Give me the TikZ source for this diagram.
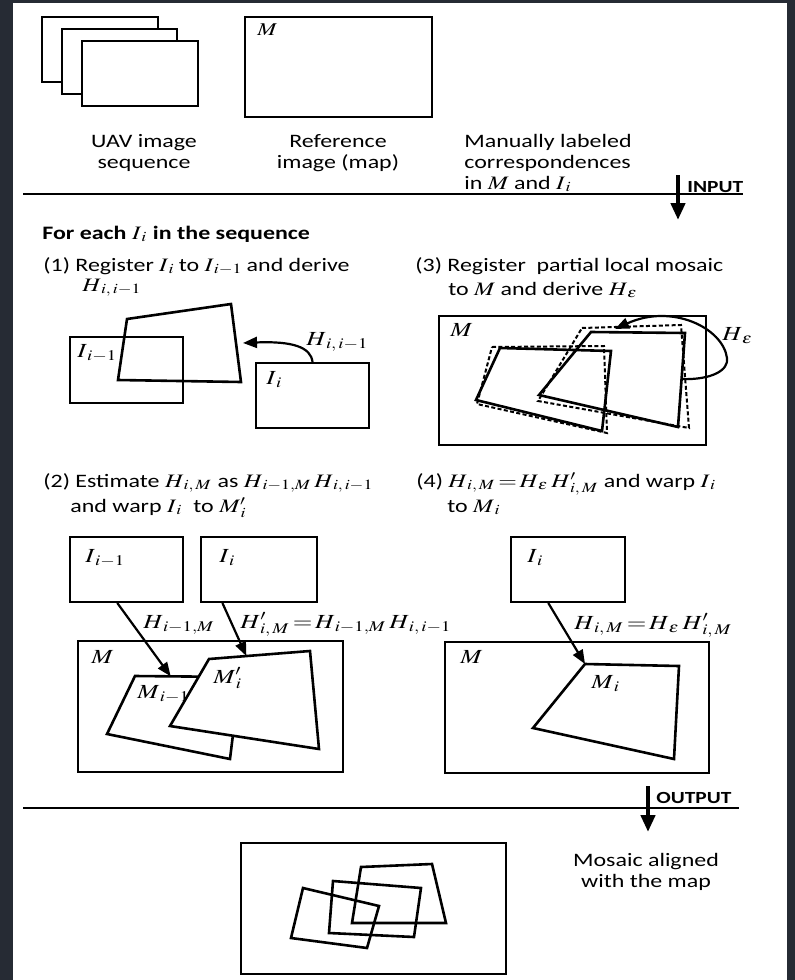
\documentclass[tikz,border=0pt]{standalone}
\usepackage{mathptmx}
\usepackage[no-math]{fontspec}
\setmainfont{Carlito}
\usepackage{graphicx}
\usetikzlibrary{arrows.meta,fit,calc}
\definecolor{bgdark}{RGB}{38,43,52}
\newcommand\sx[1]{\scalebox{1.26}[1]{#1}}
\newcommand\subx[2]{#1_{\,#2}}
\tikzset{
  box/.style={draw, line width=1pt, inner sep=0pt, fill=white},
  quad/.style={draw, line width=1.3pt, line join=miter},
  dquad/.style={draw, line width=1pt, dash pattern=on 2pt off 1.2pt},
  txt/.style={inner sep=0pt, anchor=base west, font=\fontsize{9.5}{11}\selectfont},
  ctxt/.style={txt, anchor=base},
  lbl/.style={inner sep=0pt, anchor=base west, font=\fontsize{10}{12}\selectfont},
  tag/.style={inner sep=0pt, anchor=base west, font=\fontsize{8.5}{10}\selectfont\bfseries},
  conn/.style={line width=1.1pt, -{Triangle[length=7pt,width=5.5pt]}},
  bigarrow/.style={line width=2.2pt, -{Triangle[length=8.5pt,width=7pt]}},
  rule/.style={line width=0.85pt},
}
\begin{document}
\begin{tikzpicture}[x=0.5pt,y=-0.5pt]
\useasboundingbox (0,0) rectangle (795,980);
\fill[bgdark] (0,0) rectangle (795,980);
\fill[white] (13,3) rectangle (787,980);

% ---------- inputs ----------
\node[box, fit={(42,17)(158,82)}] (uav1) {};
\node[box, fit={(62,29)(177,94)}] (uav2) {};
\node[box, fit={(82,41)(198,106)}] (uav3) {};
\node[box, fit={(245,17)(432,117)}] (refmap) {};
\node[lbl, font=\fontsize{9}{11}\selectfont] (refM) at (257,35) {\sx{$M$}};

\node[ctxt] (t1a) at (144,147) {\sx{UAV image}};
\node[ctxt] (t1b) at (144,168) {\sx{sequence}};
\node[ctxt] (t2a) at (338,147) {\sx{Reference}};
\node[ctxt] (t2b) at (338,168) {\sx{image (map)}};
\node[txt] (t3a) at (464,147) {\sx{Manually labeled}};
\node[txt] (t3b) at (464,168) {\sx{correspondences}};
\node[txt] (t3c) at (464,189) {\sx{in $M$ and $\subx{I}{i}$}};

\draw[rule] (23,194) coordinate (r1a) -- (743,194) coordinate (r1b);
\coordinate (inA) at (678,175);
\coordinate (inB) at (678,220);
\draw[bigarrow] (inA) -- (inB);
\node[tag] (intag) at (687,192) {\sx{INPUT}};

% ---------- headings ----------
\node[txt, font=\fontsize{9.5}{11}\selectfont\bfseries] (foreach) at (42,239) {\sx{For each $\subx{I}{i}$\ in the sequence}};
\node[txt] (s1a) at (43,271) {\sx{(1) Register $\subx{I}{i}$\,to $\subx{I}{i-1}$\,and derive}};
\node[txt] (s1b) at (82,291) {\sx{$\subx{H}{i,\,i-1}$}};
\node[txt] (s3a) at (415,271) {\sx{(3) Register\ \ partial local mosaic}};
\node[txt] (s3b) at (448,295) {\sx{to $M$ and derive $\subx{H}{\varepsilon}$}};

% ---------- step (1) ----------
\node[box, fill=none, fit={(70,337)(183,403)}] (p1prev) {};
\coordinate (q1a) at (127,319);
\coordinate (q1b) at (231,304);
\coordinate (q1c) at (241,382);
\coordinate (q1d) at (118,380);
\draw[quad] (q1a) -- (q1b) -- (q1c) -- (q1d) -- cycle;
\node[box, fit={(256,363)(369,428)}] (p1cur) {};
\node[lbl] (l1prev) at (77,357) {\sx{$\subx{I}{i-1}$}};
\node[lbl] (l1cur) at (266,384) {\sx{$\subx{I}{i}$}};
\coordinate (h1tip) at (243,343);
\draw[conn] (p1cur.north) .. controls (311,347) and (292,341) .. (h1tip);
\node[lbl] (l1H) at (306,345) {\sx{$\subx{H}{i,\,i-1}$}};

% ---------- step (3) ----------
\node[box, fit={(439,316)(706,445)}] (p3map) {};
\node[lbl] (l3M) at (450,336) {\sx{$M$}};
\coordinate (a1) at (500,348);
\coordinate (a2) at (611,351);
\coordinate (a3) at (602,431);
\coordinate (a4) at (476,400);
\coordinate (b1) at (591,332);
\coordinate (b2) at (685,333);
\coordinate (b3) at (678,427);
\coordinate (b4) at (539,395);
\draw[dquad] (492,347) -- (604,346) -- (607,433) -- (477,404) -- cycle;
\draw[dquad] (582,328) -- (681,325) -- (689,428) -- (538,401) -- cycle;
\draw[quad] (a1) -- (a2) -- (a3) -- (a4) -- cycle;
\draw[quad] (b1) -- (b2) -- (b3) -- (b4) -- cycle;
\coordinate (hetip) at (615,329);
\draw[conn] ($(b2)!0.49!(b3)$) .. controls (712,380) and (729,370) .. (727,358)
   .. controls (723,328) and (672,303) .. (hetip);
\node[lbl] (l3H) at (722,340) {\sx{$\subx{H}{\varepsilon}$}};

% ---------- step (2) headings ----------
\node[txt] (s2a) at (43,487) {\sx{(2) Estimate $\subx{H}{i,\,M}$ as $\subx{H}{i-1,M}\,\subx{H}{i,\,i-1}$}};
\node[txt] (s2b) at (70,512) {\sx{and warp $\subx{I}{i}$\ \ to $\subx{M}{i}'$}};
\node[txt] (s4a) at (416,487) {\sx{(4) $\subx{H}{i,\,M}\!=\!\subx{H}{\varepsilon}\,\subx{H}{i,\,M}'$\ and warp $\subx{I}{i}$}};
\node[txt] (s4b) at (447,512) {\sx{to $\subx{M}{i}$}};

% ---------- step (2) ----------
\node[box, fit={(70,537)(183,602)}] (p2prev) {};
\node[box, fit={(201,537)(317,602)}] (p2cur) {};
\node[lbl] (l2prev) at (85,562) {\sx{$\subx{I}{i-1}$}};
\node[lbl] (l2cur) at (219,562) {\sx{$\subx{I}{i}$}};
\node[box, fit={(78,641)(343,772)}] (p2map) {};
\node[lbl] (l2M) at (91,663) {\sx{$M$}};
\coordinate (m1) at (135,676);
\coordinate (m2) at (240,677);
\coordinate (m3) at (230,759);
\coordinate (m4) at (107,734);
\filldraw[quad, fill=white] (m1) -- (m2) -- (m3) -- (m4) -- cycle;
\node[lbl] (l2Mp) at (137,698) {\sx{$\subx{M}{i-1}$}};
\coordinate (n1) at (209,659);
\coordinate (n2) at (310,651);
\coordinate (n3) at (319,749);
\coordinate (n4) at (170,726);
\filldraw[quad, fill=white] (n1) -- (n2) -- (n3) -- (n4) -- cycle;
\node[lbl] (l2Mc) at (213,683) {\sx{$\subx{M}{i}'$}};
\draw[conn] ($(p2prev.south west)!0.42!(p2prev.south east)$) -- ($(m1)!0.34!(m2)$);
\draw[conn] ($(p2cur.south west)!0.19!(p2cur.south east)$) -- ($(n1)!0.37!(n2)$);
\node[lbl] (l2H1) at (143,628) {\sx{$\subx{H}{i-1,M}$}};
\node[lbl] (l2H2) at (240,628) {\sx{$\subx{H}{i,\,M}'\!=\!\subx{H}{i-1,M}\,\subx{H}{i,\,i-1}$}};

% ---------- step (4) ----------
\node[box, fit={(511,537)(625,602)}] (p4cur) {};
\node[lbl] (l4cur) at (527,562) {\sx{$\subx{I}{i}$}};
\node[box, fit={(445,642)(709,773)}] (p4map) {};
\node[lbl] (l4M) at (460,663) {\sx{$M$}};
\coordinate (k1) at (585,664);
\coordinate (k2) at (679,666);
\coordinate (k3) at (674,759);
\coordinate (k4) at (533,728);
\draw[quad] (k1) -- (k2) -- (k3) -- (k4) -- cycle;
\node[lbl] (l4Mi) at (591,688) {\sx{$\subx{M}{i}$}};
\draw[conn] ($(p4cur.south west)!0.33!(p4cur.south east)$) -- (k1);
\node[lbl] (l4H) at (574,629) {\sx{$\subx{H}{i,\,M}\!=\!\subx{H}{\varepsilon}\,\subx{H}{i,\,M}'$}};

% ---------- output ----------
\draw[rule] (23,808) coordinate (r2a) -- (739,808) coordinate (r2b);
\coordinate (outA) at (648,786);
\coordinate (outB) at (648,832);
\draw[bigarrow] (outA) -- (outB);
\node[tag] (outtag) at (656,803) {\sx{OUTPUT}};

\node[box, fit={(241,843)(506,974)}] (mosaic) {};
\draw[quad] (303,888) -- (379,906) -- (367,948) -- (291,938) -- cycle;
\draw[quad] (333,881) -- (421,888) -- (414,937) -- (329,933) -- cycle;
\draw[quad] (361,867) -- (432,864) -- (446,923) -- (352,923) -- cycle;
\node[ctxt] (t4a) at (646,866) {\sx{Mosaic aligned}};
\node[ctxt] (t4b) at (646,887) {\sx{with the map}};
\end{tikzpicture}
\end{document}
